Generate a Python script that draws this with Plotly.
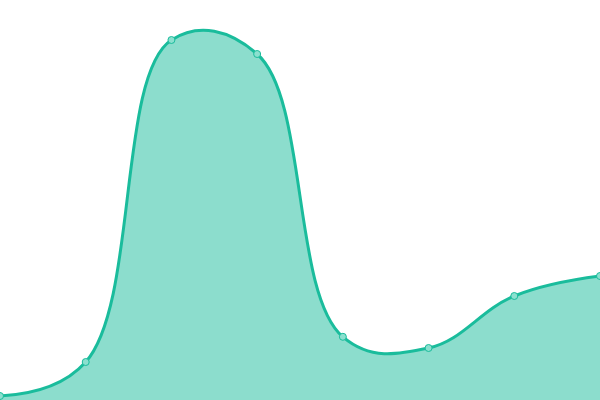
import plotly.graph_objects as go

# points (y axis 0-100)
x_vals = [0, 1, 2, 3, 4, 5, 6, 7]
y_vals = [1, 9.5, 90, 86.5, 15.8, 13, 26, 31]

teal = '#1abc9c'

fig = go.Figure()
fig.add_trace(go.Scatter(
    x=x_vals, y=y_vals,
    mode='lines+markers',
    line=dict(color=teal, width=3, shape='spline', smoothing=1.15),
    fill='tozeroy',
    fillcolor='rgba(26,188,156,0.5)',
    marker=dict(size=7, color='#8be0cf', line=dict(color=teal, width=1)),
    cliponaxis=False,
    showlegend=False))

fig.update_xaxes(range=[0, 7], visible=False, fixedrange=True)
fig.update_yaxes(range=[0, 100], visible=False, fixedrange=True)
fig.update_layout(width=600, height=400,
                  margin=dict(l=0, r=0, t=0, b=0),
                  plot_bgcolor='white', paper_bgcolor='white')
# page body has a default 8px margin, drop it so the chart sits at 0,0
fig.write_html("out.html", config={'displayModeBar': False},
               post_script="document.body.style.margin='0';"
                           "document.body.style.overflow='hidden';")
